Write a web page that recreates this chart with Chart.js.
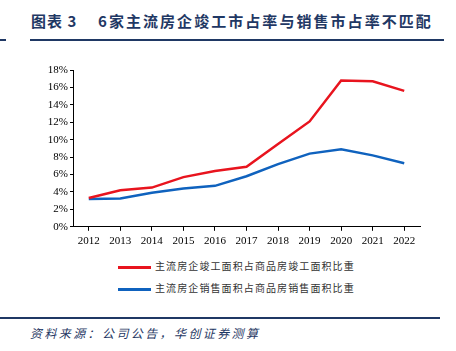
<!DOCTYPE html>
<html>
<head>
<meta charset="utf-8">
<script src="https://cdn.jsdelivr.net/npm/chart.js@4"></script>
<style>
  body { margin: 0; width: 456px; height: 351px; background: #fff; position: relative; overflow: hidden; font-family: "Noto Sans CJK SC", sans-serif; }
  .title { position: absolute; top: 10px; font-size: 15px; font-weight: bold; color: #1f3864; white-space: nowrap; }
  .rule { position: absolute; height: 2px; background: #1f3864; }
  .legend { position: absolute; left: 118px; font-size: 10px; color: #333; letter-spacing: 1.1px; white-space: nowrap; }
  .legend span.sw { display: inline-block; width: 33px; height: 3px; vertical-align: middle; margin-right: 4px; }
  .source { position: absolute; left: 30px; top: 324px; font-size: 12px; color: #1f3864; font-style: italic; letter-spacing: 2.4px; white-space: nowrap; }
  #wrap { position: absolute; left: 0; top: 52px; width: 456px; height: 200px; }
</style>
</head>
<body>
<div class="title" style="left:31px;letter-spacing:1px;">图表 3</div>
<div class="title" style="left:98px;letter-spacing:2.05px;">6家主流房企竣工市占率与销售市占率不匹配</div>
<div class="rule" style="left:0;top:39px;width:6px;"></div>
<div class="rule" style="left:30px;top:39px;width:414px;"></div>
<div id="wrap"><canvas id="chart"></canvas></div>
<div class="legend" style="top:258px;"><span class="sw" style="background:#e8141e"></span>主流房企竣工面积占商品房竣工面积比重</div>
<div class="legend" style="top:280px;"><span class="sw" style="background:#0f62be"></span>主流房企销售面积占商品房销售面积比重</div>
<div class="rule" style="left:0;top:317px;width:440px;"></div>
<div class="source">资料来源：公司公告，华创证券测算</div>
<script>
// Sample Data
const years = ['2012', '2013', '2014', '2015', '2016', '2017', '2018', '2019', '2020', '2021', '2022'];
const completionShare = [3.3, 4.2, 4.5, 5.7, 6.4, 6.9, 9.5, 12.1, 16.8, 16.7, 15.6];
const salesShare = [3.2, 3.25, 3.9, 4.4, 4.7, 5.8, 7.2, 8.4, 8.9, 8.2, 7.3];
const yTicks = [0, 2, 4, 6, 8, 10, 12, 14, 16, 18];

const tickFont = { family: 'Liberation Serif', size: 11 };

new Chart(document.getElementById('chart').getContext('2d'), {
    type: 'line',
    data: {
        labels: years,
        datasets: [{
            label: '主流房企竣工面积占商品房竣工面积比重',
            data: completionShare,
            borderColor: '#e8141e',
            borderWidth: 2.5,
            pointRadius: 0,
            tension: 0
        }, {
            label: '主流房企销售面积占商品房销售面积比重',
            data: salesShare,
            borderColor: '#0f62be',
            borderWidth: 2.5,
            pointRadius: 0,
            tension: 0
        }]
    },
    options: {
        responsive: true,
        maintainAspectRatio: false,
        animation: false,
        layout: { padding: { top: 18, right: 36, left: 0, bottom: 0 } },
        plugins: { legend: { display: false }, tooltip: { enabled: false } },
        scales: {
            x: {
                offset: true,
                grid: { drawOnChartArea: false, drawTicks: true, tickLength: 4, color: '#000' },
                border: { color: '#000', width: 1 },
                ticks: { color: '#000', font: tickFont, padding: 4, maxRotation: 0 }
            },
            y: {
                min: 0,
                max: 18,
                afterFit: axis => { axis.width = 73; },
                afterBuildTicks: axis => { axis.ticks = yTicks.map(v => ({ value: v })); },
                grid: { drawOnChartArea: false, drawTicks: true, tickLength: 3, color: '#000' },
                border: { color: '#000', width: 1 },
                ticks: { color: '#000', font: tickFont, padding: 2, callback: v => v + '%' }
            }
        }
    }
});
</script>
</body>
</html>
